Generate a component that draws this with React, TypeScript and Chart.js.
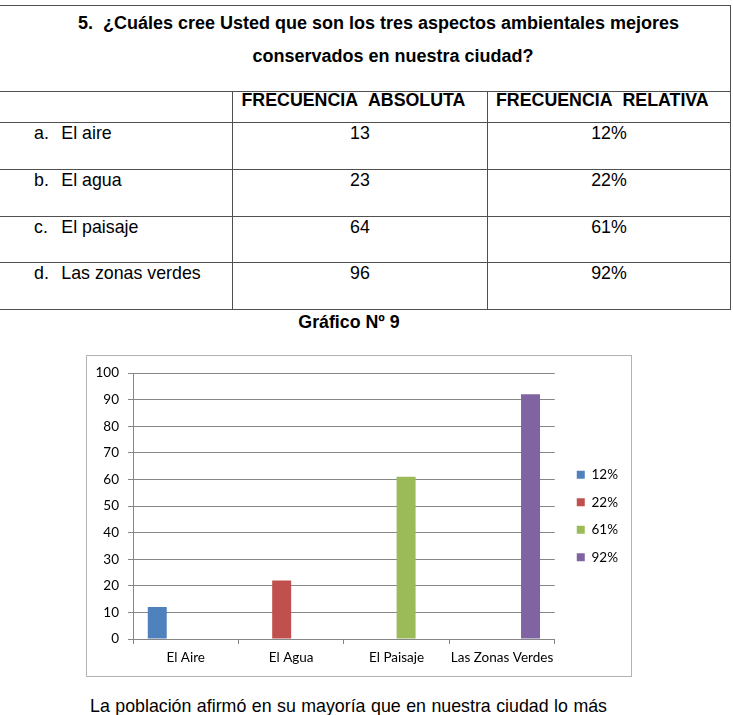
import React, { useEffect, useRef } from 'react';
import { Chart, registerables } from 'chart.js';

Chart.register(...registerables);

// ---- Chart data ----
const categories = ['El Aire', 'El Agua', 'El Paisaje', 'Las Zonas Verdes'];
const seriesNames = ['12%', '22%', '61%', '92%'];
const aireValues = [12, null, null, null];
const aguaValues = [null, 22, null, null];
const paisajeValues = [null, null, 61, null];
const zonasValues = [null, null, null, 92];
const seriesColors = ['#4F81BD', '#C0504D', '#9BBB59', '#8064A2'];
const yMin = 0;
const yMax = 100;
const yStep = 10;

// ---- Table data ----
const questionLine1 = '5.\u00a0\u00a0¿Cuáles cree Usted que son los tres aspectos ambientales mejores';
const questionLine2 = 'conservados en nuestra ciudad?';
const headerAbs = 'FRECUENCIA\u00a0\u00a0ABSOLUTA';
const headerRel = 'FRECUENCIA\u00a0\u00a0RELATIVA';
const rowLetters = ['a.', 'b.', 'c.', 'd.'];
const rowLabels = ['El aire', 'El agua', 'El paisaje', 'Las zonas verdes'];
const absFreq = ['13', '23', '64', '96'];
const relFreq = ['12%', '22%', '61%', '92%'];
const chartTitle = 'Gráfico Nº 9';
const footerText = 'La población afirmó en su mayoría que en nuestra ciudad lo más';

const DOC_FONT = '"Liberation Sans", Arial, sans-serif';
const CHART_FONT = 'Lato, "Open Sans", sans-serif';

const LINE = '#505050';
const rowTops = [122, 169, 216, 262];
const tableBottom = 309;
const headerTop = 91;
const tableTop = 5;

function HLine({ y }: { y: number }) {
  return <div style={{ position: 'absolute', left: 0, top: y, width: 731, height: 1, background: LINE }} />;
}
function VLine({ x, y1, y2 }: { x: number; y1: number; y2: number }) {
  return <div style={{ position: 'absolute', left: x, top: y1, width: 1, height: y2 - y1 + 1, background: LINE }} />;
}

function Txt(props: { left: number; top: number; width?: number; align?: any; size: number; bold?: boolean; children: any; extra?: any }) {
  const { left, top, width, align, size, bold, children, extra } = props;
  return (
    <div
      style={{
        position: 'absolute',
        left,
        top,
        width,
        textAlign: align || 'left',
        fontFamily: DOC_FONT,
        fontSize: size,
        fontWeight: bold ? 'bold' : 'normal',
        lineHeight: 1,
        whiteSpace: 'nowrap',
        color: '#000',
        ...(extra || {}),
      }}
    >
      {children}
    </div>
  );
}

function BarChart() {
  const ref = useRef<HTMLCanvasElement | null>(null);
  useEffect(() => {
    if (!ref.current) return;
    const seriesData = [aireValues, aguaValues, paisajeValues, zonasValues];
    const font = { family: CHART_FONT, size: 13.5 };
    const chart = new Chart(ref.current, {
      type: 'bar',
      data: {
        labels: categories,
        datasets: seriesNames.map((name, i) => ({
          label: name,
          data: seriesData[i],
          backgroundColor: seriesColors[i],
          borderWidth: 0,
          xAxisID: 'x',
          yAxisID: 'y',
          categoryPercentage: 0.72,
          barPercentage: 1,
        })),
      },
      options: {
        animation: false,
        responsive: false,
        devicePixelRatio: 1,
        layout: { padding: { top: 0, right: 3, bottom: 0, left: 0 } },
        plugins: {
          legend: {
            position: 'right',
            labels: { boxWidth: 8, boxHeight: 8, padding: 14, font, color: '#000' },
          },
          tooltip: { enabled: false },
        },
        scales: {
          x: {
            grid: { offset: true, drawOnChartArea: false, drawTicks: true, tickLength: 5, color: '#868686' },
            border: { color: '#868686' },
            ticks: { padding: 6, color: '#000', font, maxRotation: 0, autoSkip: false },
            afterFit: (s: any) => {
              s.height = 37;
            },
          },
          xTop: {
            type: 'linear',
            position: 'top',
            display: true,
            grid: { display: false },
            ticks: { display: false },
            border: { display: false },
            afterFit: (s: any) => {
              s.height = 16;
            },
          },
          y: {
            min: yMin,
            max: yMax,
            ticks: { stepSize: yStep, padding: 9, color: '#000', font },
            grid: { color: '#868686', tickLength: 5 },
            border: { color: '#868686' },
            afterFit: (s: any) => {
              s.width = 46;
            },
          },
          yR: {
            position: 'right',
            display: true,
            grid: { display: false },
            ticks: { display: false },
            border: { display: false },
            afterFit: (s: any) => {
              s.width = 8;
            },
          },
        },
      } as any,
    });
    return () => chart.destroy();
  }, []);
  return <canvas ref={ref} width={544} height={320} style={{ position: 'absolute', left: 0, top: 0, width: 544, height: 320 }} />;
}

export default function App() {
  const colAbsCenter = 360;
  const colRelCenter = 609;
  return (
    <div style={{ position: 'fixed', left: 0, top: 0, width: 733, height: 715, overflow: 'hidden', background: '#fff' }}>
      {/* table lines */}
      <HLine y={tableTop} />
      <HLine y={headerTop} />
      {rowTops.map((y) => (
        <HLine key={y} y={y} />
      ))}
      <HLine y={tableBottom} />
      <VLine x={730} y1={tableTop} y2={tableBottom} />
      <VLine x={232} y1={headerTop} y2={tableBottom} />
      <VLine x={487} y1={headerTop} y2={tableBottom} />

      {/* question */}
      <Txt left={0} top={29.5 - 15.2} width={757} align="center" size={18} bold>
        {questionLine1}
      </Txt>
      <Txt left={56} top={62 - 15.2} width={674} align="center" size={18} bold>
        {questionLine2}
      </Txt>

      {/* header */}
      <Txt left={241.5} top={106.7 - 15.1} size={17.8} bold>
        {headerAbs}
      </Txt>
      <Txt left={496} top={106.7 - 15.1} size={17.8} bold>
        {headerRel}
      </Txt>

      {/* rows */}
      {rowTops.map((y, i) => (
        <React.Fragment key={i}>
          <Txt left={34} top={y + 17.8 - 15.1} size={17.8}>
            {rowLetters[i]}
          </Txt>
          <Txt left={61.3} top={y + 17.8 - 15.1} size={17.8}>
            {rowLabels[i]}
          </Txt>
          <Txt left={colAbsCenter - 60} top={y + 17.8 - 15.1} width={120} align="center" size={17.8}>
            {absFreq[i]}
          </Txt>
          <Txt left={colRelCenter - 60} top={y + 17.8 - 15.1} width={120} align="center" size={17.8}>
            {relFreq[i]}
          </Txt>
        </React.Fragment>
      ))}

      {/* chart title */}
      <Txt left={0} top={329 - 15.1} width={698} align="center" size={17.8} bold>
        {chartTitle}
      </Txt>

      {/* chart */}
      <div
        style={{
          position: 'absolute',
          left: 86,
          top: 355,
          width: 546,
          height: 322,
          boxSizing: 'border-box',
          border: '1px solid #b3b3b3',
          background: '#fff',
        }}
      >
        <BarChart />
      </div>

      {/* footer paragraph */}
      <Txt
        left={90}
        top={713 - 15.1}
        width={517}
        size={17.8}
        extra={{ textAlign: 'justify', textAlignLast: 'justify', whiteSpace: 'normal' }}
      >
        {footerText}
      </Txt>
    </div>
  );
}
